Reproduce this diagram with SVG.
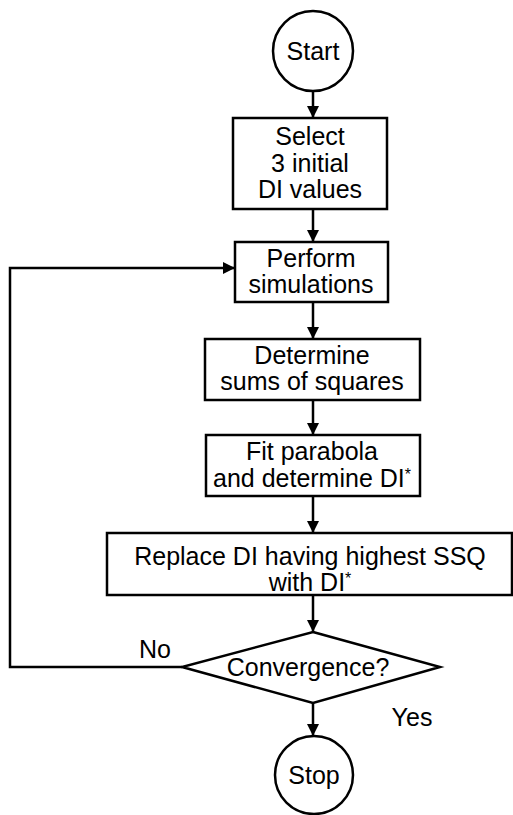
<svg xmlns="http://www.w3.org/2000/svg" width="513" height="815" viewBox="0 0 513 815">
<defs>
<style>
.s{fill:#fff;stroke:#000;stroke-width:2.5}
.l{fill:none;stroke:#000;stroke-width:2.5}
text{font-family:"Liberation Sans",Arial,sans-serif;font-size:25px;fill:#000;text-anchor:middle}
.sup{font-size:16px}
</style>
<marker id="a" viewBox="0 0 10 10" refX="10" refY="5" markerWidth="5" markerHeight="5" markerUnits="strokeWidth" orient="auto">
<path d="M0,0 L10,5 L0,10 Z" fill="#000"/>
</marker>
</defs>
<g id="connectors">
<line class="l" x1="313" y1="91" x2="313" y2="118" marker-end="url(#a)"/>
<line class="l" x1="313" y1="209" x2="313" y2="242" marker-end="url(#a)"/>
<line class="l" x1="313" y1="302" x2="313" y2="339" marker-end="url(#a)"/>
<line class="l" x1="313" y1="400" x2="313" y2="435" marker-end="url(#a)"/>
<line class="l" x1="313" y1="496" x2="313" y2="533" marker-end="url(#a)"/>
<line class="l" x1="313" y1="595" x2="313" y2="632" marker-end="url(#a)"/>
<line class="l" x1="313" y1="703" x2="313" y2="736" marker-end="url(#a)"/>
<polyline class="l" points="182,667 10,667 10,268 235,268" marker-end="url(#a)"/>
<text x="155" y="658">No</text>
<text x="412" y="726">Yes</text>
</g>
<g id="start">
<circle class="s" cx="313" cy="51" r="40"/>
<text x="313" y="60">Start</text>
</g>
<g id="select">
<rect class="s" x="233" y="118" width="154" height="91"/>
<text x="310" y="145">Select</text>
<text x="310" y="172">3 initial</text>
<text x="310" y="198">DI values</text>
</g>
<g id="perform">
<rect class="s" x="235" y="242" width="153" height="60"/>
<text x="311" y="267">Perform</text>
<text x="311" y="293">simulations</text>
</g>
<g id="determine">
<rect class="s" x="205" y="339" width="215" height="61"/>
<text x="312" y="364">Determine</text>
<text x="312" y="390">sums of squares</text>
</g>
<g id="fit">
<rect class="s" x="206" y="435" width="214" height="61"/>
<text x="312" y="460">Fit parabola</text>
<text x="312" y="487">and determine DI<tspan class="sup" dy="-7">*</tspan></text>
</g>
<g id="replace">
<rect class="s" x="107" y="533" width="405" height="62"/>
<text x="310" y="565">Replace DI having highest SSQ</text>
<text x="310" y="591">with DI<tspan class="sup" dy="-7">*</tspan></text>
</g>
<g id="convergence">
<polygon class="s" points="313,632 440,667 313,703 182,667"/>
<text x="308" y="676">Convergence?</text>
</g>
<g id="stop">
<circle class="s" cx="314" cy="775" r="39"/>
<text x="314" y="784">Stop</text>
</g>
</svg>
